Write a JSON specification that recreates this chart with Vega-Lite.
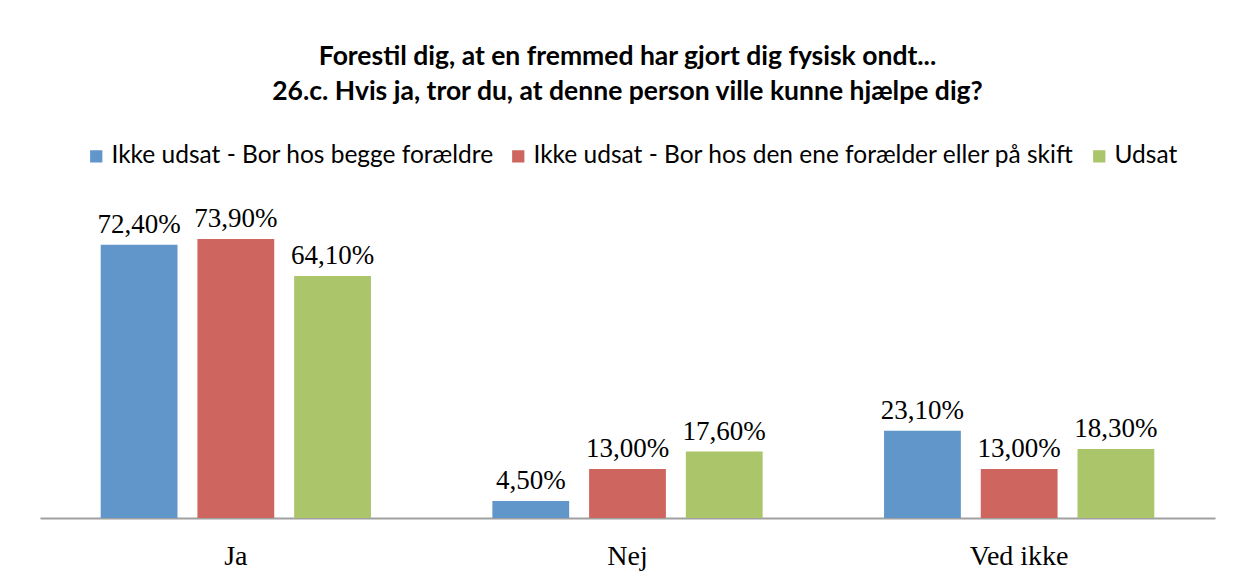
{
  "$schema": "https://vega.github.io/schema/vega-lite/v6.json",
  "autosize": {"type": "none"},
  "width": 1175,
  "height": 302,
  "padding": {"left": 40, "top": 216, "right": 29, "bottom": 63},
  "background": "white",
  "title": {
    "text": ["Forestil dig, at en fremmed har gjort dig fysisk ondt...", "26.c. Hvis ja, tror du, at denne person ville kunne hjælpe dig?"],
    "font": "Lato",
    "fontSize": 26.5,
    "fontWeight": "bold",
    "color": "#000000",
    "anchor": "middle",
    "lineHeight": 35,
    "offset": 39
  },
  "data": {
    "values": [
      {"svar": "Ja", "gruppe": "Ikke udsat - Bor hos begge forældre", "value": 72.4},
      {"svar": "Ja", "gruppe": "Ikke udsat - Bor hos den ene forælder eller på skift", "value": 73.9},
      {"svar": "Ja", "gruppe": "Udsat", "value": 64.1},
      {"svar": "Nej", "gruppe": "Ikke udsat - Bor hos begge forældre", "value": 4.5},
      {"svar": "Nej", "gruppe": "Ikke udsat - Bor hos den ene forælder eller på skift", "value": 13.0},
      {"svar": "Nej", "gruppe": "Udsat", "value": 17.6},
      {"svar": "Ved ikke", "gruppe": "Ikke udsat - Bor hos begge forældre", "value": 23.1},
      {"svar": "Ved ikke", "gruppe": "Ikke udsat - Bor hos den ene forælder eller på skift", "value": 13.0},
      {"svar": "Ved ikke", "gruppe": "Udsat", "value": 18.3}
    ]
  },
  "transform": [
    {"calculate": "replace(format(datum.value, '.2f'), '.', ',') + '%'", "as": "label"}
  ],
  "encoding": {
    "x": {
      "field": "svar", "type": "nominal", "sort": ["Ja", "Nej", "Ved ikke"],
      "scale": {"paddingInner": 0.31, "paddingOuter": 0.155},
      "axis": {
        "title": null, "labelAngle": 0, "ticks": false,
        "domainColor": "#a0a0a0", "domainWidth": 2,
        "labelFont": "Liberation Serif", "labelFontSize": 28, "labelColor": "#000000",
        "labelPadding": 24
      }
    },
    "xOffset": {
      "field": "gruppe", "type": "nominal",
      "sort": ["Ikke udsat - Bor hos begge forældre", "Ikke udsat - Bor hos den ene forælder eller på skift", "Udsat"],
      "scale": {"paddingInner": 0.206, "paddingOuter": 0}
    },
    "y": {
      "field": "value", "type": "quantitative",
      "scale": {"domain": [0, 80], "nice": false},
      "axis": null
    }
  },
  "layer": [
    {
      "mark": {"type": "bar"},
      "encoding": {
        "color": {
          "field": "gruppe", "type": "nominal",
          "sort": ["Ikke udsat - Bor hos begge forældre", "Ikke udsat - Bor hos den ene forælder eller på skift", "Udsat"],
          "scale": {"range": ["#6096c9", "#cf655f", "#abc56b"]},
          "legend": {
            "title": null,
            "orient": "none",
            "direction": "horizontal",
            "legendX": 44,
            "legendY": -72,
            "symbolType": "square",
            "symbolSize": 150,
            "symbolStrokeWidth": 0,
            "symbolOffset": 0,
            "labelFont": "Lato",
            "labelFontSize": 24.5,
            "labelColor": "#000000",
            "labelOffset": 3,
            "columnPadding": 12,
            "labelLimit": 700
          }
        }
      }
    },
    {
      "mark": {"type": "text", "baseline": "alphabetic", "dy": -12, "font": "Liberation Serif", "fontSize": 27, "color": "#000000"},
      "encoding": {"text": {"field": "label"}}
    }
  ],
  "config": {"view": {"stroke": null}}
}
